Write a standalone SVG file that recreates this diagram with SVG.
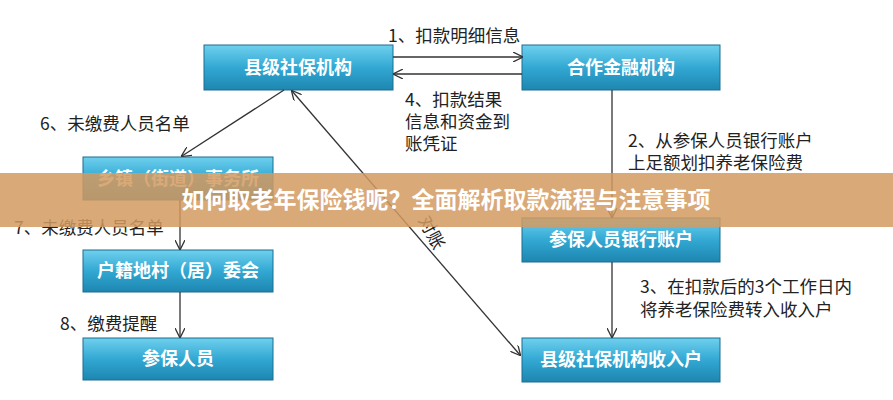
<svg xmlns="http://www.w3.org/2000/svg" width="893" height="400" viewBox="0 0 893 400">
<defs>
<linearGradient id="g" x1="0" y1="0" x2="0" y2="1"><stop offset="0" stop-color="#6fd0ee"/><stop offset="0.5" stop-color="#32a8d3"/><stop offset="1" stop-color="#1d86b0"/></linearGradient>
<marker id="a" viewBox="0 0 10 10" refX="9" refY="5" markerWidth="10" markerHeight="10" orient="auto-start-reverse" markerUnits="userSpaceOnUse"><path d="M0,0 L10,5 L0,10" fill="none" stroke="#333" stroke-width="1.3"/></marker>
</defs>
<style>
.b{fill:url(#g);stroke:#1a6f90;stroke-width:1}
.t{font-family:"Noto Sans CJK SC",sans-serif;font-weight:bold;font-size:18px;fill:#fff;text-anchor:middle}
.l{font-family:"Noto Sans CJK SC",sans-serif;font-size:17.5px;fill:#222}
.c{stroke:#333;stroke-width:1.3;fill:none;marker-end:url(#a)}
</style>
<rect width="893" height="400" fill="#fff"/>
<g id="n1"><rect class="b" x="204" y="45" width="189" height="45"/><text class="t" x="298" y="74">县级社保机构</text></g>
<g id="n2"><rect class="b" x="522" y="45" width="198" height="45"/><text class="t" x="621" y="74">合作金融机构</text></g>
<g id="n3"><rect class="b" x="83" y="157" width="190" height="43"/><text class="t" x="178" y="185">乡镇（街道）事务所</text></g>
<g id="n4"><rect class="b" x="522" y="218" width="198" height="44"/><text class="t" x="621" y="246">参保人员银行账户</text></g>
<g id="n5"><rect class="b" x="83" y="250" width="190" height="42"/><text class="t" x="178" y="277">户籍地村（居）委会</text></g>
<g id="n6"><rect class="b" x="83" y="338" width="190" height="42"/><text class="t" x="178" y="365">参保人员</text></g>
<g id="n7"><rect class="b" x="522" y="338" width="198" height="44"/><text class="t" x="621" y="366">县级社保机构收入户</text></g>
<g id="edges">
<line class="c" x1="393" y1="57" x2="522" y2="57"/>
<line class="c" x1="522" y1="74" x2="394" y2="74"/>
<line class="c" x1="284" y1="90" x2="182" y2="156"/>
<line class="c" x1="292" y1="91" x2="520" y2="355" style="marker-start:url(#a)"/>
<line class="c" x1="612" y1="90" x2="612" y2="217"/>
<line class="c" x1="612" y1="262" x2="612" y2="337"/>
<line class="c" x1="180" y1="200" x2="180" y2="249"/>
<line class="c" x1="180" y1="292" x2="180" y2="337"/>
</g>
<g id="labels">
<text class="l" x="388" y="42">1、扣款明细信息</text>
<text class="l" x="405" y="106">4、扣款结果</text>
<text class="l" x="405" y="128">信息和资金到</text>
<text class="l" x="405" y="150">账凭证</text>
<text class="l" x="40" y="130">6、未缴费人员名单</text>
<text class="l" x="628" y="147">2、从参保人员银行账户</text>
<text class="l" x="628" y="169">上足额划扣养老保险费</text>
<text class="l" x="14" y="234">7、未缴费人员名单</text>
<text class="l" x="60" y="330">8、缴费提醒</text>
<text class="l" x="640" y="293">3、在扣款后的3个工作日内</text>
<text class="l" x="640" y="316">将养老保险费转入收入户</text>
<text class="l" transform="translate(418,220) rotate(62)">对账</text>
</g>
<rect x="0" y="173" width="893" height="54" fill="#d49a60" opacity="0.85"/>
<text x="446" y="208" font-family="'Noto Sans CJK SC',sans-serif" font-weight="bold" font-size="23" fill="#fff" text-anchor="middle">如何取老年保险钱呢？全面解析取款流程与注意事项</text>
</svg>
